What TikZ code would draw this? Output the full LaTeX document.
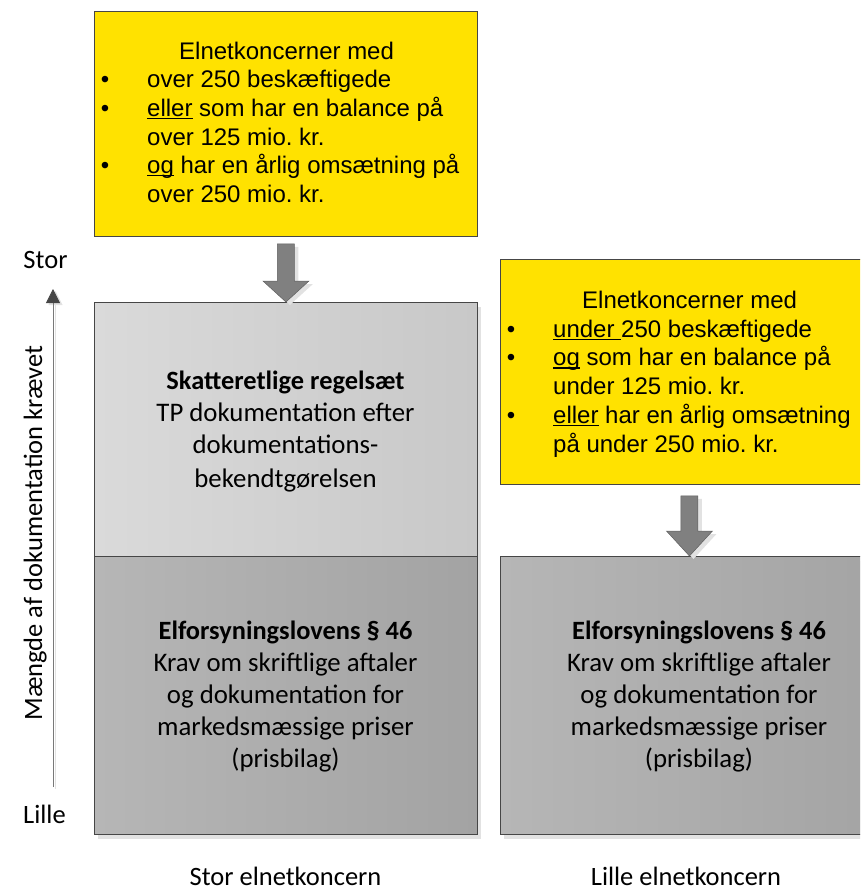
\documentclass[tikz,border=0pt]{standalone}
\usepackage{fontspec}
\setmainfont{Liberation Sans}
\newfontfamily\calfont{Carlito}
\usetikzlibrary{calc,arrows.meta,shadows}
\frenchspacing

\definecolor{crityellow}{RGB}{255,226,0}
\definecolor{boxedge}{RGB}{70,70,70}
\definecolor{lightL}{RGB}{218,218,218}
\definecolor{lightR}{RGB}{200,200,200}
\definecolor{darkL}{RGB}{182,182,182}
\definecolor{darkR}{RGB}{163,163,163}
\definecolor{shadowgray}{RGB}{226,226,226}
\definecolor{arrowfill}{RGB}{128,128,128}
\definecolor{arrowedge}{RGB}{95,95,95}
\definecolor{axisgray}{RGB}{120,120,120}
\definecolor{axishead}{RGB}{70,70,70}

% underline set close to the baseline, as in the criteria text
\newcommand\ulw[1]{\setbox0=\hbox{#1}\rlap{\rule[-2.8pt]{\wd0}{1.5pt}}\box0\relax}

% block arrow from the bottom of one box down onto the top of another
% #1 source, #2 target, #3 gap below source, #4 head length
\newcommand\blockpath[4]{%
  ($(#1.south)+(-8.5,#3)$) -- ($(#1.south)+(8.5,#3)$) --
  ($(#1.south |- #2.north)+(8.5,-#4)$) -- ($(#1.south |- #2.north)+(23,-#4)$) --
  (#1.south |- #2.north) --
  ($(#1.south |- #2.north)+(-23,-#4)$) -- ($(#1.south |- #2.north)+(-8.5,-#4)$) -- cycle}

\begin{document}
\begin{tikzpicture}[x=1pt,y=-1pt,
  critbox/.style={draw=boxedge, line width=0.9pt, fill=crityellow, anchor=north west, inner sep=0pt},
  lightbox/.style={draw=boxedge, line width=0.9pt, left color=lightL, right color=lightR, anchor=north west, inner sep=0pt,
    drop shadow={shadow xshift=4pt, shadow yshift=-5pt, fill=shadowgray, opacity=1}},
  darkbox/.style={draw=boxedge, line width=0.9pt, left color=darkL, right color=darkR, anchor=north west, inner sep=0pt,
    drop shadow={shadow xshift=4pt, shadow yshift=-5pt, fill=shadowgray, opacity=1}},
  crit/.style={font=\fontsize{24}{28}\selectfont, anchor=base west, inner sep=0pt},
  bul/.style={font=\fontsize{24}{28}\selectfont, anchor=base, inner sep=0pt},
  gline/.style={font=\calfont\fontsize{26.8}{32}\selectfont, anchor=base, inner sep=0pt},
  gbold/.style={font=\calfont\bfseries\fontsize{26.4}{32}\selectfont, anchor=base, inner sep=0pt},
  axlabel/.style={font=\calfont\fontsize{26.5}{32}\selectfont, anchor=base, inner sep=0pt},
  blockarrow/.style={fill=arrowfill, draw=arrowedge, line width=0.5pt},
  blockshadow/.style={fill=shadowgray, transform canvas={shift={(4pt,-3pt)}}}
]
\useasboundingbox (0,0) rectangle (860,890);
\clip (0,0) rectangle (860,890);

% ---------- boxes ----------
\node[critbox, minimum width=383pt, minimum height=225pt] (bigcrit) at (94,11) {};
\node[critbox, minimum width=378pt, minimum height=225pt] (smallcrit) at (500,259) {};
\node[lightbox, minimum width=383pt, minimum height=254pt] (taxrules) at (94,302) {};
\node[darkbox, minimum width=383pt, minimum height=278pt] (elflarge) at (94,556) {};
\node[darkbox, minimum width=398pt, minimum height=278pt] (elfsmall) at (500,556) {};

% ---------- block arrows ----------
\fill[blockshadow] \blockpath{bigcrit}{taxrules}{7}{21};
\filldraw[blockarrow] \blockpath{bigcrit}{taxrules}{7}{21};
\fill[blockshadow] \blockpath{smallcrit}{elfsmall}{11}{25};
\filldraw[blockarrow] \blockpath{smallcrit}{elfsmall}{11}{25};

% ---------- criteria for large groups ----------
\node[crit] (bc0) at (179,59.3) {Elnetkoncerner med};
\node[bul] (bb1) at (105,87.9) {•};
\node[crit] (bc1) at (147,87.9) {over 250 beskæftigede};
\node[bul] (bb2) at (105,116.5) {•};
\node[crit] (bc2) at (147,116.5) {\ulw{eller} som har en balance på};
\node[crit] (bc3) at (147,145.1) {over 125 mio. kr.};
\node[bul] (bb4) at (105,173.7) {•};
\node[crit] (bc4) at (147,173.7) {\ulw{og} har en årlig omsætning på};
\node[crit] (bc5) at (147,202.3) {over 250 mio. kr.};

% ---------- criteria for small groups ----------
\node[crit] (sc0) at (582,308.5) {Elnetkoncerner med};
\node[bul] (sb1) at (511,337.2) {•};
\node[crit] (sc1) at (553,337.2) {\ulw{under\ }250 beskæftigede};
\node[bul] (sb2) at (511,365.9) {•};
\node[crit] (sc2) at (553,365.9) {\ulw{og} som har en balance på};
\node[crit] (sc3) at (553,394.6) {under 125 mio. kr.};
\node[bul] (sb4) at (511,423.3) {•};
\node[crit] (sc4) at (553,423.3) {\ulw{eller} har en årlig omsætning};
\node[crit] (sc5) at (553,452) {på under 250 mio. kr.};

% ---------- tax rules ----------
\node[gbold] (tax0) at (285.5,389) {Skatteretlige regelsæt};
\node[gline] (tax1) at (285.5,421) {TP dokumentation efter};
\node[gline] (tax2) at (285.5,453) {dokumentations-};
\node[gline] (tax3) at (285.5,487) {bekendtgørelsen};

% ---------- section 46, large group ----------
\node[gbold] (el0) at (285.5,639) {Elforsyningslovens § 46};
\node[gline] (el1) at (285.5,671) {Krav om skriftlige aftaler};
\node[gline] (el2) at (285.5,703) {og dokumentation for};
\node[gline] (el3) at (285.5,735) {markedsmæssige priser};
\node[gline] (el4) at (285.5,767) {(prisbilag)};

% ---------- section 46, small group ----------
\node[gbold] (es0) at (699,639) {Elforsyningslovens § 46};
\node[gline] (es1) at (699,671) {Krav om skriftlige aftaler};
\node[gline] (es2) at (699,703) {og dokumentation for};
\node[gline] (es3) at (699,735) {markedsmæssige priser};
\node[gline] (es4) at (699,767) {(prisbilag)};

% ---------- vertical axis ----------
\coordinate (axbot) at (53,787);
\coordinate (axtop) at (53,289);
\draw[shadowgray, line width=1pt, transform canvas={shift={(2.5pt,-2pt)}},
  -{Triangle[length=14pt,width=14pt]}] (axbot) -- (axtop);
\draw[axisgray, line width=0.8pt, -{Triangle[length=14pt,width=14pt,color=axishead]}] (axbot) -- (axtop);
\node[axlabel] (big) at (45.5,269) {Stor};
\node[axlabel] (small) at (44.5,823) {Lille};
\node[axlabel, rotate=90] (amount) at (42,533) {Mængde af dokumentation krævet};

% ---------- column captions ----------
\node[axlabel] (capbig) at (285.5,885) {Stor elnetkoncern};
\node[axlabel] (capsmall) at (686,885) {Lille elnetkoncern};
\end{tikzpicture}
\end{document}
